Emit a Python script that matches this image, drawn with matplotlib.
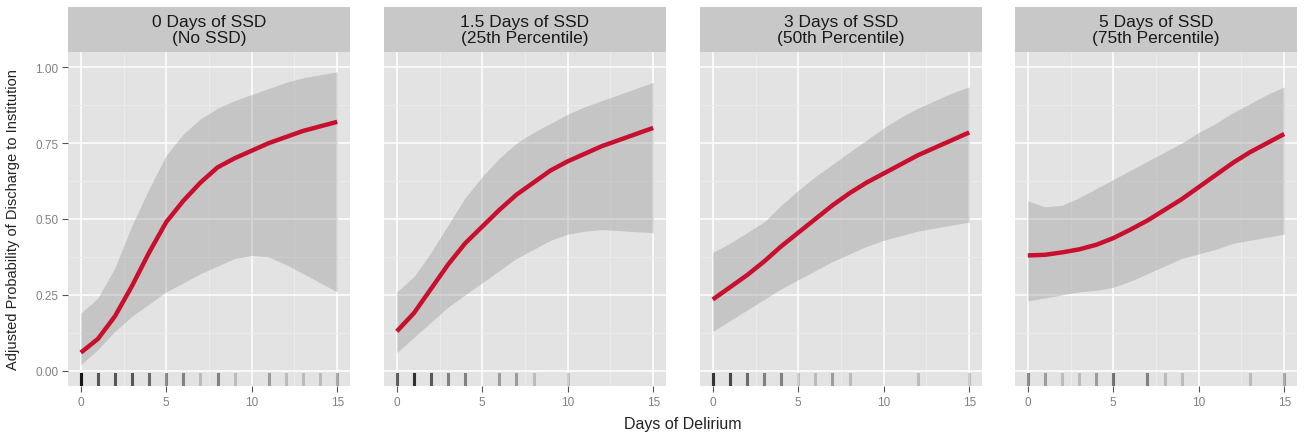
import numpy as np
import matplotlib
matplotlib.use("Agg")
import matplotlib.pyplot as plt

plt.rcParams['font.family'] = ['Liberation Sans', 'DejaVu Sans']

# panel titles
titles = ["0 Days of SSD\n(No SSD)",
          "1.5 Days of SSD\n(25th Percentile)",
          "3 Days of SSD\n(50th Percentile)",
          "5 Days of SSD\n(75th Percentile)"]

days = [0, 1, 2, 3, 4, 5, 6, 7, 8, 9, 10, 11, 12, 13, 14, 15]

# fitted probability
fit_0 = [0.06, 0.105, 0.18, 0.28, 0.39, 0.49, 0.56, 0.62, 0.67, 0.70, 0.725, 0.75, 0.77, 0.79, 0.805, 0.82]
fit_15 = [0.13, 0.19, 0.27, 0.35, 0.42, 0.475, 0.53, 0.58, 0.62, 0.66, 0.69, 0.715, 0.74, 0.76, 0.78, 0.80]
fit_3 = [0.235, 0.275, 0.315, 0.36, 0.41, 0.455, 0.50, 0.545, 0.585, 0.62, 0.65, 0.68, 0.71, 0.735, 0.76, 0.785]
fit_5 = [0.38, 0.382, 0.39, 0.40, 0.415, 0.437, 0.465, 0.495, 0.53, 0.565, 0.605, 0.645, 0.685, 0.72, 0.75, 0.78]

# upper confidence band
hi_0 = [0.19, 0.24, 0.34, 0.48, 0.60, 0.71, 0.78, 0.83, 0.865, 0.89, 0.91, 0.93, 0.95, 0.965, 0.975, 0.985]
hi_15 = [0.26, 0.31, 0.39, 0.48, 0.57, 0.64, 0.70, 0.75, 0.785, 0.815, 0.845, 0.87, 0.89, 0.91, 0.93, 0.95]
hi_3 = [0.39, 0.42, 0.455, 0.49, 0.545, 0.595, 0.64, 0.68, 0.72, 0.76, 0.80, 0.835, 0.865, 0.89, 0.915, 0.935]
hi_5 = [0.56, 0.54, 0.545, 0.57, 0.60, 0.63, 0.66, 0.69, 0.72, 0.75, 0.785, 0.815, 0.85, 0.88, 0.91, 0.935]

# lower confidence band
lo_0 = [0.02, 0.07, 0.13, 0.18, 0.22, 0.26, 0.29, 0.32, 0.345, 0.37, 0.38, 0.375, 0.35, 0.32, 0.29, 0.26]
lo_15 = [0.06, 0.11, 0.16, 0.21, 0.25, 0.29, 0.33, 0.37, 0.40, 0.43, 0.45, 0.46, 0.465, 0.462, 0.458, 0.455]
lo_3 = [0.13, 0.165, 0.20, 0.235, 0.27, 0.30, 0.33, 0.36, 0.385, 0.41, 0.43, 0.445, 0.46, 0.47, 0.48, 0.49]
lo_5 = [0.23, 0.24, 0.25, 0.26, 0.265, 0.275, 0.295, 0.32, 0.345, 0.37, 0.385, 0.40, 0.42, 0.43, 0.44, 0.45]

# rug: observed days of delirium and how many patients
rug_days_0 = [0, 1, 2, 3, 4, 5, 6, 7, 8, 9, 11, 12, 13, 14, 15]
rug_n_0 = [12, 5, 5, 5, 4, 3, 3, 1, 3, 1, 2, 1, 1, 1, 2]
rug_days_15 = [0, 1, 2, 3, 4, 6, 7, 8, 10]
rug_n_15 = [5, 8, 5, 3, 3, 2, 2, 1, 1]
rug_days_3 = [0, 1, 2, 3, 4, 5, 6, 7, 8, 12, 15]
rug_n_3 = [8, 6, 4, 3, 3, 1, 1, 2, 1, 1, 1]
rug_days_5 = [0, 1, 2, 3, 4, 5, 7, 8, 9, 13, 15]
rug_n_5 = [3, 2, 1, 1, 2, 4, 3, 1, 1, 1, 2]

fits = [fit_0, fit_15, fit_3, fit_5]
his = [hi_0, hi_15, hi_3, hi_5]
los = [lo_0, lo_15, lo_3, lo_5]
rugs = [(rug_days_0, rug_n_0), (rug_days_15, rug_n_15),
        (rug_days_3, rug_n_3), (rug_days_5, rug_n_5)]

fig = plt.figure(figsize=(13.08, 4.39), dpi=100)

lefts = [68, 384, 700, 1015]
W, H = 1308, 439
for i in range(4):
    l = lefts[i] / W
    ax = fig.add_axes([l, (H - 387) / H, 282 / W, (387 - 53) / H])
    ax.set_facecolor('#E3E3E3')
    ax.set_xlim(-0.75, 15.75)
    ax.set_ylim(-0.05, 1.05)
    ax.set_xticks([0, 5, 10, 15])
    ax.set_yticks([0, 0.25, 0.5, 0.75, 1.0])
    ax.set_xticks([2.5, 7.5, 12.5], minor=True)
    ax.set_yticks([0.125, 0.375, 0.625, 0.875], minor=True)
    ax.grid(which='major', color='white', lw=1.1)
    ax.grid(which='minor', color='#EDEDED', lw=0.6)
    ax.set_axisbelow(True)
    for s in ax.spines.values():
        s.set_visible(False)
    ax.tick_params(which='minor', length=0)
    ax.tick_params(which='major', length=4, color='#555555', labelcolor='#808080', labelsize=8.5, pad=3)
    if i > 0:
        ax.tick_params(axis='y', labelleft=False, length=0)
    else:
        ax.set_yticklabels(['0.00', '0.25', '0.50', '0.75', '1.00'])

    ax.fill_between(days, los[i], his[i], color='#999999', alpha=0.4, lw=0)
    ax.plot(days, fits[i], color='#C8102E', lw=3.2, solid_capstyle='butt')

    rd, rn = rugs[i]
    for d, n in zip(rd, rn):
        for k in range(n):
            ax.axvline(d, ymin=0, ymax=0.035, color='black', alpha=0.17, lw=2.2)

    sax = fig.add_axes([l, (H - 53) / H, 282 / W, 45 / H])
    sax.set_facecolor('#C8C8C8')
    sax.set_xticks([])
    sax.set_yticks([])
    for s in sax.spines.values():
        s.set_visible(False)
    sax.text(0.5, 0.5, titles[i], ha='center', va='center', fontsize=12.5,
             color='#1a1a1a', linespacing=1.0, transform=sax.transAxes)

fig.text(683 / W, 1 - 425 / H, "Days of Delirium", ha='center', va='center', fontsize=11.5, color='#222222')
fig.text(13 / W, 1 - 220 / H, "Adjusted Probability of Discharge to Institution", ha='center', va='center',
         rotation=90, fontsize=10.5, color='#222222')

fig.savefig("out.png", dpi=100)
